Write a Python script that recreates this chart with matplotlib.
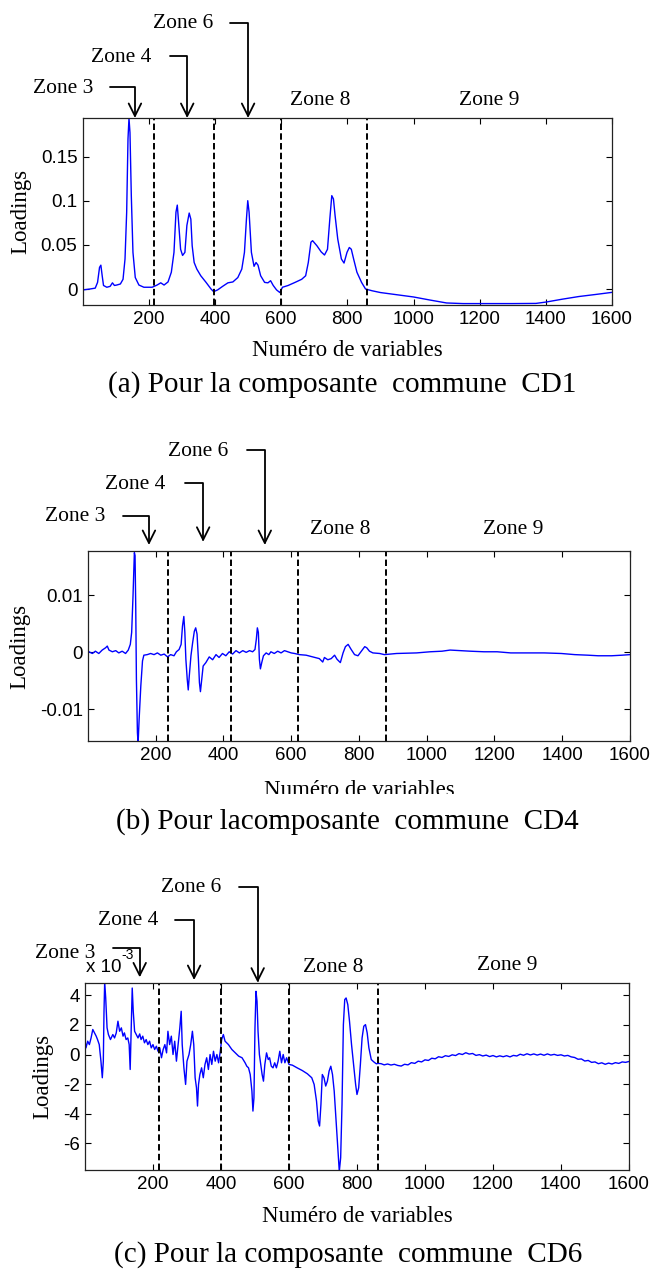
import matplotlib
matplotlib.use("Agg")
import matplotlib.pyplot as plt
from matplotlib.patches import Rectangle

# ---- data ----
x_cd1 = [2, 22, 38, 45, 51, 55, 59, 63, 73, 83,
         90, 96, 103, 114, 122, 128, 133, 137, 140, 143,
         147, 152, 159, 170, 185, 210, 225, 236, 246, 258,
         268, 276, 282, 286, 290, 296, 302, 309, 315, 322,
         327, 331, 337, 345, 357, 373, 388, 396, 408, 423,
         439, 454, 469, 481, 489, 495, 499, 503, 510, 518,
         524, 530, 538, 550, 560, 568, 576, 586, 596, 604,
         621, 642, 662, 674, 682, 690, 695, 708, 721, 731,
         740, 747, 753, 758, 763, 771, 782, 790, 799, 806,
         812, 819, 829, 843, 855, 875, 900, 950, 1000, 1050,
         1100, 1150, 1200, 1300, 1370, 1400, 1450, 1500, 1550, 1600]
y_cd1 = [-0.001, 0, 0.001, 0.0075, 0.0245, 0.027, 0.015, 0.004, 0.002, 0.003,
         0.007, 0.004, 0.0045, 0.0057, 0.011, 0.034, 0.087, 0.17, 0.1935, 0.177,
         0.106, 0.0415, 0.013, 0.0045, 0.002, 0.002, 0.0045, 0.007, 0.0045, 0.008,
         0.019, 0.0415, 0.087, 0.095, 0.0755, 0.045, 0.038, 0.0415, 0.072, 0.086,
         0.079, 0.049, 0.030, 0.0226, 0.015, 0.0075, 0, -0.003, -0.001, 0.003,
         0.007, 0.008, 0.013, 0.0226, 0.0415, 0.079, 0.1, 0.087, 0.0415, 0.0257,
         0.030, 0.027, 0.015, 0.0075, 0.007, 0.0094, 0.004, -0.001, -0.004, 0.002,
         0.004, 0.0075, 0.011, 0.015, 0.030, 0.053, 0.0547, 0.049, 0.042, 0.0385,
         0.045, 0.079, 0.1057, 0.102, 0.083, 0.0566, 0.034, 0.0294, 0.0415, 0.047,
         0.045, 0.034, 0.019, 0.0075, 0, -0.002, -0.004, -0.0065, -0.009, -0.0125,
         -0.0158, -0.0165, -0.0165, -0.0165, -0.0163, -0.0148, -0.0115, -0.0085, -0.0062, -0.0038]

x_cd4 = [3, 13, 22, 32, 42, 52, 57, 62, 72, 82,
         91, 101, 111, 119, 125, 129, 133, 137, 139, 141,
         143, 146, 148, 151, 156, 161, 165, 175, 185, 195,
         205, 215, 225, 235, 244, 254, 261, 269, 275, 279,
         283, 286, 289, 293, 296, 299, 304, 309, 314, 318,
         322, 326, 329, 332, 336, 340, 348, 358, 368, 378,
         387, 397, 407, 417, 427, 437, 447, 457, 467, 477,
         486, 493, 497, 500, 503, 506, 509, 513, 518, 526,
         534, 540, 550, 560, 570, 580, 590, 600, 610, 624,
         644, 664, 683, 693, 698, 708, 718, 728, 735, 745,
         753, 760, 768, 777, 787, 797, 807, 817, 823, 831,
         841, 861, 875, 911, 970, 1010, 1045, 1069, 1099, 1129,
         1169, 1208, 1248, 1298, 1347, 1397, 1437, 1476, 1506, 1546,
         1576, 1600]
y_cd4 = [0.0001, -0.0002, 0.0002, -0.0002, 0.0004, 0.0008, 0.0011, 0.0004, 0.0001, 0.0003,
         -0.0001, 0.0002, -0.0002, 0.0004, 0.0014, 0.0035, 0.0099, 0.0175, 0.017, 0.0081,
         -0.0047, -0.0141, -0.0160, -0.0118, -0.0059, -0.0015, -0.0005, -0.0004, -0.0002, -0.0004,
         -0.0001, -0.0005, -0.0003, -0.0008, -0.0004, -0.0006, 0.0001, 0.0005, 0.0014, 0.0046,
         0.0063, 0.0035, -0.0012, -0.0047, -0.0066, -0.0042, -0.0006, 0.0017, 0.0037, 0.0043,
         0.0032, -0.0012, -0.0053, -0.0069, -0.0047, -0.0024, -0.0018, -0.0008, -0.0013, -0.0004,
         -0.0009, -0.0002, -0.0006, 0.0001, -0.0003, 0.0003, -0.0001, 0.0003, 0.0000, 0.0003,
         0.0001, 0.0005, 0.0023, 0.0043, 0.0035, -0.0012, -0.0029, -0.0018, -0.0006, -0.0001,
         -0.0004, 0.0001, -0.0002, 0.0002, -0.0001, 0.0003, 0.0001, -0.0001, -0.0002, -0.0004,
         -0.0005, -0.0008, -0.0011, -0.0017, -0.0009, -0.0013, -0.0011, -0.0005, -0.0012, -0.0018,
         -0.0001, 0.001, 0.0014, 0.0005, -0.0004, -0.0006, 0.0002, 0.001, 0.0008, 0.0002,
         -0.0001, -0.0002, -0.0004, -0.0002, -0.0001, 0.0001, 0.0002, 0.0004, 0.0003, 0.0002,
         0.0001, 0.0001, -0.0001, -0.0001, -0.0001, -0.0002, -0.0004, -0.0005, -0.0006, -0.0006,
         -0.0005, -0.0004]

# CD6 values are in units of 1e-3
x_cd6 = [1, 3, 8, 13, 18, 23, 28, 33, 37, 42,
         47, 51, 54, 56, 58, 61, 65, 69, 75, 82,
         87, 92, 97, 102, 107, 112, 116, 121, 126, 130,
         133, 136, 139, 142, 146, 151, 156, 161, 165, 170,
         175, 180, 185, 190, 195, 200, 205, 210, 215, 220,
         225, 230, 235, 240, 244, 249, 254, 259, 264, 269,
         274, 279, 283, 286, 291, 296, 300, 306, 311, 316,
         320, 324, 328, 331, 334, 338, 343, 348, 353, 358,
         363, 368, 373, 378, 383, 388, 393, 398, 402, 407,
         412, 422, 432, 442, 452, 462, 471, 476, 481, 486,
         491, 494, 497, 500, 503, 506, 509, 513, 517, 521,
         525, 529, 534, 539, 543, 548, 553, 558, 563, 568,
         573, 578, 583, 588, 593, 600, 610, 624, 639, 654,
         667, 674, 681, 686, 690, 694, 698, 703, 708, 713,
         718, 723, 728, 733, 738, 743, 748, 752, 756, 760,
         764, 768, 773, 778, 784, 790, 796, 800, 805, 810,
         815, 820, 825, 830, 835, 842, 849, 857, 862,
         871, 880, 890, 900, 910, 920, 930, 940, 950, 960,
         970, 980, 990, 1000, 1010, 1020, 1030, 1040, 1050, 1060,
         1070, 1080, 1090, 1100, 1110, 1120, 1130, 1140, 1150, 1160,
         1170, 1180, 1190, 1200, 1210, 1220, 1230, 1240, 1250, 1260,
         1270, 1280, 1290, 1300, 1310, 1320, 1330, 1340, 1350, 1360,
         1370, 1380, 1390, 1400, 1410, 1420, 1430, 1440, 1450, 1460,
         1470, 1480, 1490, 1500, 1510, 1520, 1530, 1540, 1550, 1560,
         1570, 1580, 1590, 1600]
y_cd6 = [0.79, 0.45, 0.9, 0.67, 1.12, 1.69, 1.46, 1.24, 1.01, 0.67,
         -0.45, -1.57, -0.45, 2.92, 4.9, 3.82, 1.8, 1.35, 1.01, 1.35,
         1.12, 1.46, 2.25, 1.57, 1.8, 1.24, 1.46, 1.01, 1.12, 0.67,
         -1.01, 1.8, 4.49, 2.92, 1.57, 1.35, 1.12, 1.39, 1.01, 1.24,
         0.79, 1.01, 0.67, 0.9, 0.45, 0.67, 0.34, 0.56, 0.22, 0.45,
         -0.22, 0.34, 0.67, 0.11, 1.57, 0.67, 1.24, 0, 0.9, -0.45,
         0.67, 1.8, 2.92, 0.67, -0.9, -2.02, -0.45, 0, 0.67, 1.57,
         0.67, -1.57, -2.25, -3.48, -2.02, -1.35, -0.9, -1.57, -0.67, -0.22,
         -1.01, 0, -0.67, 0.22, -0.45, 0, -0.56, 0.22, 1.01, 1.35,
         0.9, 0.67, 0.34, 0.11, -0.11, -0.22, -0.56, -0.79, -0.9, -1.35,
         -2.47, -3.82, -2.92, 1.8, 4.27, 3.6, 1.57, 0, -0.67, -1.35,
         -1.8, -0.67, 0.11, -0.34, -0.22, -0.79, -0.9, -0.56, -0.9, -0.45,
         0.22, -0.56, 0, -0.56, -0.22, -0.67, -0.72, -0.9, -1.08, -1.3,
         -1.57, -2.02, -3.15, -4.49, -4.83, -3.37, -1.35, -1.57, -2.13, -1.8,
         -1.12, -0.79, -1.35, -2.47, -4.27, -6.07, -7.9, -6.97, -3.37, 2.02,
         3.71, 3.82, 3.37, 2.25, 0.67, -0.67, -2.02, -2.7, -2.25, -0.67,
         1.12, 1.91, 2.02, 1.46, 0.45, -0.34, -0.49, -0.63, -0.60,
         -0.62, -0.70, -0.64, -0.71, -0.66, -0.74, -0.78, -0.66, -0.70, -0.55,
         -0.60, -0.45, -0.50, -0.36, -0.40, -0.25, -0.29, -0.15, -0.20, -0.08,
         -0.13, -0.02, -0.07, 0.06, 0.00, 0.12, 0.03, 0.07, -0.06, -0.01,
         -0.10, -0.04, -0.14, -0.07, -0.16, -0.09, -0.15, -0.08, -0.16, -0.06,
         -0.10, 0.02, -0.05, 0.05, -0.03, 0.04, -0.04, 0.03, -0.05, 0.04,
         -0.04, 0.01, -0.06, -0.02, -0.10, -0.06, -0.16, -0.20, -0.32, -0.30,
         -0.44, -0.40, -0.53, -0.50, -0.62, -0.56, -0.66, -0.58, -0.64, -0.55,
         -0.60, -0.50, -0.53, -0.47]

zone_bounds_a = [215, 398, 598, 858]
zone_bounds_b = [236, 421, 619, 879]
zone_bounds_c = [217, 401, 601, 861]

x_ticks = [200, 400, 600, 800, 1000, 1200, 1400, 1600]
y_ticks_a = [0, 0.05, 0.1, 0.15]
y_labels_a = ["0", "0.05", "0.1", "0.15"]
y_ticks_b = [-0.01, 0, 0.01]
y_labels_b = ["-0.01", "0", "0.01"]
y_ticks_c = [-6, -4, -2, 0, 2, 4]
y_labels_c = ["-6", "-4", "-2", "0", "2", "4"]

# (label, text x, text y, line start x, arrow x, line y, tip y)   y in axes fraction
arrows_a = [("Zone 3", -60, 1.160, 82, 158, 1.166, 1.0),
            ("Zone 4", 117, 1.326, 263, 316, 1.332, 1.0),
            ("Zone 6", 303, 1.503, 444, 500, 1.508, 1.0)]
arrows_b = [("Zone 3", -39, 1.179, 103, 180, 1.182, 1.030),
            ("Zone 4", 140, 1.349, 285, 340, 1.354, 1.047),
            ("Zone 6", 325, 1.520, 468, 522, 1.529, 1.030)]
arrows_c = [("Zone 3", -59, 1.159, 83, 161, 1.186, 1.030),
            ("Zone 4", 126, 1.332, 265, 321, 1.337, 1.016),
            ("Zone 6", 311, 1.512, 453, 508, 1.515, 1.002)]
plain_a = [("Zone 8", 719, 1.096), ("Zone 9", 1230, 1.096)]
plain_b = [("Zone 8", 745, 1.112), ("Zone 9", 1256, 1.112)]
plain_c = [("Zone 8", 730, 1.084), ("Zone 9", 1242, 1.091)]

SERIF = "Liberation Serif"
SANS = "Liberation Sans"
W, H = 654, 1274


def fx(px):
    return px / W


def fy(py):
    return 1 - py / H


fig = plt.figure(figsize=(6.54, 12.74), dpi=100)


def make_axes(left, right, top, bottom):
    return fig.add_axes([fx(left), fy(bottom), (right - left) / W, (bottom - top) / H])


def style(ax, ylim, yt, ylab, bounds):
    ax.set_xlim(1, 1600)
    ax.set_ylim(*ylim)
    ax.set_xticks(x_ticks)
    ax.set_xticklabels([str(t) for t in x_ticks])
    ax.set_yticks(yt)
    ax.set_yticklabels(ylab)
    ax.tick_params(direction="in", top=True, right=True, length=4.5, width=0.8,
                   labelsize=13.5, pad=4)
    for lab in ax.get_xticklabels() + ax.get_yticklabels():
        lab.set_family(SANS)
    for s in ax.spines.values():
        s.set_linewidth(0.9)
        s.set_color("#222222")
    for b in bounds:
        ax.axvline(b, color="black", lw=1.4, dashes=(3.3, 1.7))


def zones(ax, arrows, plain):
    tr = ax.get_xaxis_transform()
    for lab, tx, ty, sx, axx, ly, tip in arrows:
        ax.text(tx, ty, lab, transform=tr, ha="center", va="center",
                family=SERIF, fontsize=15.5, clip_on=False)
        ax.annotate("", xy=(axx, tip), xycoords=tr, xytext=(sx, ly), textcoords=tr,
                    arrowprops=dict(arrowstyle="->,head_length=0.9,head_width=0.45",
                                    connectionstyle="angle,angleA=0,angleB=90,rad=0",
                                    lw=1.3, color="black", shrinkA=0, shrinkB=0,
                                    mutation_scale=10),
                    annotation_clip=False)
    for lab, tx, ty in plain:
        ax.text(tx, ty, lab, transform=tr, ha="center", va="center",
                family=SERIF, fontsize=15.5, clip_on=False)


# (a)
ax_a = make_axes(83, 612, 118, 305)
ax_a.plot(x_cd1, y_cd1, color="#0000ff", lw=1.0)
style(ax_a, (-0.0181, 0.1936), y_ticks_a, y_labels_a, zone_bounds_a)
zones(ax_a, arrows_a, plain_a)

# (b)
ax_b = make_axes(88.3, 630, 550.7, 741)
ax_b.plot(x_cd4, y_cd4, color="#0000ff", lw=1.0)
style(ax_b, (-0.01556, 0.01784), y_ticks_b, y_labels_b, zone_bounds_b)
zones(ax_b, arrows_b, plain_b)

# (c)
ax_c = make_axes(85.3, 629, 983, 1170)
ax_c.plot(x_cd6, y_cd6, color="#0000ff", lw=1.0)
style(ax_c, (-7.8, 4.83), y_ticks_c, y_labels_c, zone_bounds_c)
zones(ax_c, arrows_c, plain_c)
fig.text(fx(86), fy(968), "x 10", ha="left", va="center", family=SANS, fontsize=13.5)
fig.text(fx(121), fy(955), "-3", ha="left", va="center", family=SANS, fontsize=10)

# axis labels
for x, y in [(347.5, 350), (359, 790), (357, 1216)]:
    fig.text(fx(x), fy(y), "Numéro de variables", ha="center", va="center",
             family=SERIF, fontsize=16.5)
for x, y in [(21, 211), (20, 646), (43, 1076)]:
    fig.text(fx(x), fy(y), "Loadings", ha="center", va="center", rotation=90,
             family=SERIF, fontsize=16.5)

# white band clipping the second x label, as in the source figure
fig.patches.append(Rectangle((0, fy(805)), 1, (805 - 794) / H, transform=fig.transFigure,
                             facecolor="white", edgecolor="none", zorder=5))

captions = [("(a) Pour la composante  commune  CD1", 342, 385),
            ("(b) Pour lacomposante  commune  CD4", 347, 822),
            ("(c) Pour la composante  commune  CD6", 348, 1255)]
for txt, x, y in captions:
    fig.text(fx(x), fy(y), txt, ha="center", va="center", family=SERIF,
             fontsize=21, zorder=6)

fig.savefig("out.png", dpi=100, facecolor="white")
